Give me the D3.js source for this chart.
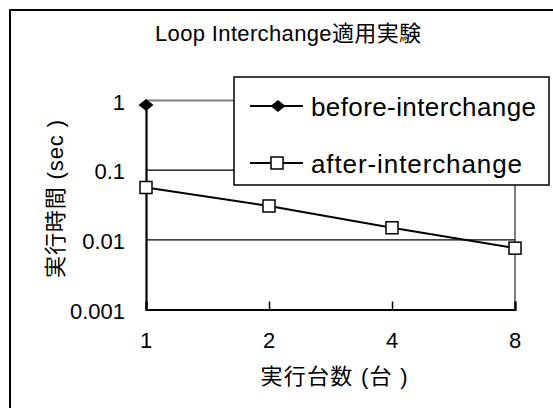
<!DOCTYPE html>
<html>
<head>
<meta charset="utf-8">
<script src="https://cdn.jsdelivr.net/npm/d3@7"></script>
<style>
  body { margin: 0; background: #fff; }
  text { font-family: "Liberation Sans", Arial, "Noto Sans CJK JP", sans-serif; fill: #000; }
</style>
</head>
<body>
<div id="chart"></div>
<script>
// values
const machines = [1, 2, 4, 8];
const beforeTimes = [0.86, null, null, null];
const afterTimes = [0.0564, 0.0306, 0.0149, 0.0076];
const yTicks = [1, 0.1, 0.01, 0.001];
const yTickLabels = ["1", "0.1", "0.01", "0.001"];
const seriesNames = ["before-interchange", "after-interchange"];

const width = 553, height = 408;
const plotLeft = 146, plotRight = 515, plotTop = 100.5, plotBottom = 309.5;

const svg = d3.select("#chart").append("svg")
    .attr("width", width)
    .attr("height", height);

svg.append("rect")
    .attr("width", width).attr("height", height)
    .attr("fill", "#fff");

// outer chart frame (runs off the right/bottom edge)
svg.append("rect")
    .attr("x", 10).attr("y", 10)
    .attr("width", 560).attr("height", 420)
    .attr("fill", "none")
    .attr("stroke", "#000")
    .attr("stroke-width", 2);

svg.append("text")
    .attr("x", 288).attr("y", 41)
    .attr("text-anchor", "middle")
    .style("font-size", "22px")
    .attr("textLength", 266)
    .text("Loop Interchange適用実験");

const x = d3.scaleLog().base(2).domain([1, 8]).range([plotLeft, plotRight]);
const y = d3.scaleLog().domain([0.001, 1]).range([plotBottom, plotTop]);

// plot border (gray top + right)
svg.append("path")
    .attr("d", `M${plotLeft},${plotTop}H${plotRight}V${plotBottom}`)
    .attr("fill", "none")
    .attr("stroke", "#808080")
    .attr("stroke-width", 2);

// gridlines
svg.selectAll("line.grid")
    .data([0.1, 0.01])
    .enter().append("line")
    .attr("class", "grid")
    .attr("x1", plotLeft).attr("x2", plotRight)
    .attr("y1", d => y(d)).attr("y2", d => y(d))
    .attr("stroke", "#000")
    .attr("stroke-width", 1.2);

// x axis
const xAxis = svg.append("g")
    .attr("transform", `translate(0,${plotBottom})`)
    .call(d3.axisTop(x).tickValues(machines).tickSize(8).tickFormat(""));
xAxis.select(".domain").attr("stroke", "#000").attr("stroke-width", 2.2);
xAxis.selectAll(".tick line").attr("stroke", "#000").attr("stroke-width", 1.5);

svg.selectAll("text.xlab")
    .data(machines)
    .enter().append("text")
    .attr("class", "xlab")
    .attr("x", d => x(d))
    .attr("y", 348)
    .attr("text-anchor", "middle")
    .style("font-size", "22px")
    .text(d => d);

// y axis
const yAxis = svg.append("g")
    .attr("transform", `translate(${plotLeft},0)`)
    .call(d3.axisLeft(y).tickValues(yTicks).tickSize(0).tickFormat(""));
yAxis.select(".domain").attr("stroke", "#000").attr("stroke-width", 2.2);

svg.selectAll("text.ylab")
    .data(yTicks)
    .enter().append("text")
    .attr("class", "ylab")
    .attr("x", 125)
    .attr("y", d => y(d) + 9)
    .attr("text-anchor", "end")
    .style("font-size", "22px")
    .text((d, i) => yTickLabels[i]);

svg.append("text")
    .attr("transform", "translate(63,199) rotate(-90)")
    .attr("text-anchor", "middle")
    .style("font-size", "22px")
    .attr("textLength", 158)
    .text("実行時間 (sec )");

svg.append("text")
    .attr("x", 334).attr("y", 384)
    .attr("text-anchor", "middle")
    .style("font-size", "22px")
    .attr("textLength", 147)
    .text("実行台数 (台 )");

// series
const line = d3.line()
    .defined(d => d[1] != null)
    .x(d => x(d[0]))
    .y(d => y(d[1]));

const beforeData = machines.map((m, i) => [m, beforeTimes[i]]);
const afterData = machines.map((m, i) => [m, afterTimes[i]]);

svg.append("path")
    .datum(beforeData)
    .attr("d", line)
    .attr("fill", "none")
    .attr("stroke", "#000")
    .attr("stroke-width", 2);

svg.append("path")
    .datum(afterData)
    .attr("d", line)
    .attr("fill", "none")
    .attr("stroke", "#000")
    .attr("stroke-width", 2);

// wide diamond marker
const diamondPath = "M-7.5,0L0,-6L7.5,0L0,6Z";

svg.selectAll("path.before")
    .data(beforeData.filter(d => d[1] != null))
    .enter().append("path")
    .attr("class", "before")
    .attr("transform", d => `translate(${x(d[0])},${y(d[1])})`)
    .attr("d", diamondPath)
    .attr("fill", "#000");

svg.selectAll("rect.after")
    .data(afterData)
    .enter().append("rect")
    .attr("class", "after")
    .attr("x", d => x(d[0]) - 6)
    .attr("y", d => y(d[1]) - 6)
    .attr("width", 12).attr("height", 12)
    .attr("fill", "#fff")
    .attr("stroke", "#000")
    .attr("stroke-width", 1.5);

// legend
const legend = svg.append("g").attr("transform", "translate(234,77)");
legend.append("rect")
    .attr("width", 315).attr("height", 108)
    .attr("fill", "#fff")
    .attr("stroke", "#000")
    .attr("stroke-width", 1.5);

const rows = [29, 86];
const textLens = [225, 211];
seriesNames.forEach((name, i) => {
    const g = legend.append("g").attr("transform", `translate(0,${rows[i]})`);
    g.append("line")
        .attr("x1", 16).attr("x2", 69)
        .attr("stroke", "#000").attr("stroke-width", 2);
    if (i === 0) {
        g.append("path")
            .attr("transform", "translate(44,0)")
            .attr("d", diamondPath)
            .attr("fill", "#000");
    } else {
        g.append("rect")
            .attr("x", 37).attr("y", -6)
            .attr("width", 12).attr("height", 12)
            .attr("fill", "#fff")
            .attr("stroke", "#000")
            .attr("stroke-width", 1.5);
    }
    g.append("text")
        .attr("x", 77).attr("y", 10)
        .style("font-size", "26px")
        .attr("textLength", textLens[i])
        .text(name);
});
</script>
</body>
</html>
